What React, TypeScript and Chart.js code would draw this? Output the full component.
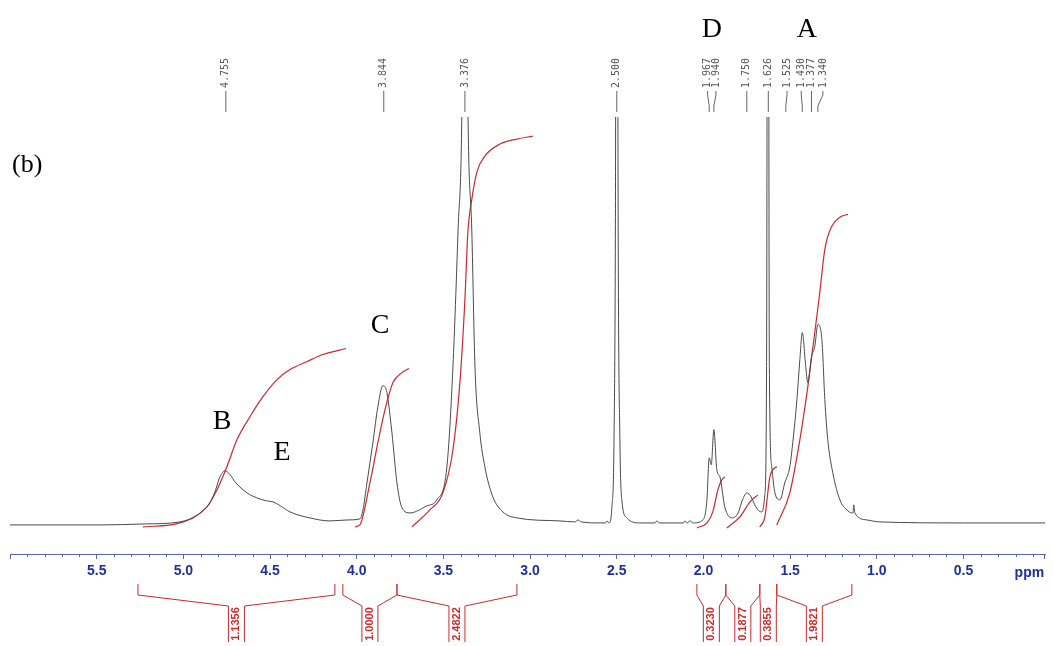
import React, { useEffect, useRef } from "react";
import { Chart, registerables } from "chart.js";

Chart.register(...registerables);

// ---- spectrum (ppm, intensity) ----
const spectrumPpm = [
  6.0, 5.48, 5.22, 5.02, 4.92, 4.847, 4.818, 4.789, 4.76, 4.73, 4.702, 4.633, 4.576, 4.52, 4.483, 4.44, 4.385, 4.27, 4.155, 4.05,
  3.982, 3.964, 3.941, 3.907, 3.878, 3.849, 3.826, 3.797, 3.768, 3.739, 3.693, 3.595, 3.538, 3.48, 3.445, 3.416, 3.393, 3.376,
  3.359, 3.336, 3.318, 3.29, 3.261, 3.215, 3.157, 3.076, 2.828, 2.74, 2.724, 2.705, 2.597, 2.565, 2.557, 2.545, 2.528, 2.516,
  2.508, 2.5, 2.492, 2.482, 2.471, 2.442, 2.367, 2.28, 2.269, 2.255, 2.115, 2.107, 2.095, 2.078, 2.06, 2.003, 1.98, 1.967,
  1.955, 1.94, 1.923, 1.905, 1.877, 1.836, 1.8, 1.775, 1.75, 1.725, 1.704, 1.68, 1.663, 1.646, 1.636, 1.628, 1.62, 1.606,
  1.588, 1.559, 1.531, 1.502, 1.485, 1.461, 1.444, 1.43, 1.41, 1.398, 1.377, 1.358, 1.34, 1.317, 1.3, 1.283, 1.254, 1.213,
  1.173, 1.145, 1.138, 1.133, 1.127, 1.058, 0.983, 0.5, 0.03,
];
const spectrumIntensity = [
  0, 0, 1, 3, 10, 22, 33, 48, 54, 50, 43, 32, 27, 24, 23, 19, 13, 7, 4, 5,
  6, 15, 42, 82, 118, 139, 132, 92, 42, 17, 12, 19, 25, 58, 158, 292, 420, 800,
  420, 292, 158, 92, 58, 28, 13, 7, 4, 3, 5, 3, 2, 2, 4, 2, 18, 85,
  300, 1000, 300, 85, 25, 7, 2, 2, 4, 2, 2, 4, 2, 4, 2, 5, 25, 67,
  60, 95, 55, 48, 18, 7, 12, 25, 32, 28, 20, 14, 13, 30, 158, 1000, 158, 58,
  32, 25, 42, 58, 82, 125, 165, 192, 158, 142, 168, 178, 200, 185, 125, 85, 52, 25,
  15, 12, 12, 20, 12, 5, 3, 2, 2,
];

// ---- integral curves ----
const int1Ppm = [5.233, 5.02, 4.864, 4.806, 4.749, 4.691, 4.616, 4.541, 4.46, 4.385, 4.287, 4.195, 4.062];
const int1Val = [-2, 2, 18, 35, 58, 85, 108, 128, 145, 155, 163, 170, 176];
const int2Ppm = [4.01, 3.982, 3.924, 3.878, 3.837, 3.791, 3.739, 3.699];
const int2Val = [-2, 0, 42, 82, 115, 142, 152, 156];
const int3Ppm = [3.682, 3.578, 3.503, 3.445, 3.405, 3.376, 3.359, 3.336, 3.307, 3.261, 3.174, 3.076, 2.984];
const int3Val = [-2, 15, 32, 75, 142, 225, 292, 325, 352, 368, 380, 385, 388];
const int4Ppm = [2.038, 1.98, 1.946, 1.917, 1.894, 1.877];
const int4Val = [-3, 2, 13, 35, 45, 48];
const int5Ppm = [1.865, 1.79, 1.732, 1.686];
const int5Val = [-3, 8, 23, 30];
const int6Ppm = [1.675, 1.646, 1.617, 1.6, 1.577];
const int6Val = [-2, 8, 48, 55, 58];
const int7Ppm = [1.577, 1.502, 1.444, 1.398, 1.358, 1.329, 1.3, 1.26, 1.213, 1.167];
const int7Val = [0, 32, 85, 138, 192, 232, 275, 298, 307, 310];

// ---- integration brackets ----
const integralLabels = ["1.1356", "1.0000", "2.4822", "0.3230", "0.1877", "0.3855", "1.9821"];
const bracketStart = [5.262, 4.08, 3.768, 2.038, 1.871, 1.675, 1.577];
const bracketEnd = [4.126, 3.768, 3.076, 1.871, 1.675, 1.577, 1.144];

// ---- peak picking labels ----
const peakLabels = ["4.755", "3.844", "3.376", "2.500", "1.967", "1.940", "1.750", "1.626", "1.525", "1.430", "1.377", "1.340"];
const peakPpm = [4.755, 3.844, 3.376, 2.5, 1.967, 1.94, 1.75, 1.626, 1.525, 1.43, 1.377, 1.34];
const peakLabelPpm = [4.755, 3.844, 3.376, 2.5, 1.976, 1.928, 1.75, 1.626, 1.518, 1.436, 1.377, 1.311];

// ---- axis ticks ----
const majorTicks = [0.5, 1.0, 1.5, 2.0, 2.5, 3.0, 3.5, 4.0, 4.5, 5.0, 5.5];
const axisMin = 0.03;
const axisMax = 6.0;

// ---- annotations ----
const letterTexts = ["D", "A", "C", "B", "E"];
const letterPpm = [1.951, 1.403, 3.866, 4.777, 4.431];
const letterBaseline = [37, 37, 333, 429, 460];

const AXIS_COLOR = "#5a66a8";
const TICK_TEXT = "#1f2fa0";
const RED = "#cc2a2a";
const TRACE = "#4a4a4a";

const toPoints = (xs: number[], ys: number[]) => xs.map((x, i) => ({ x, y: ys[i] }));

const decorPlugin = {
  id: "nmrDecor",
  afterDraw(chart: any) {
    const ctx: CanvasRenderingContext2D = chart.ctx;
    const xs = chart.scales.x;
    const area = chart.chartArea;
    ctx.save();

    // minor ticks every 0.1 ppm
    ctx.strokeStyle = AXIS_COLOR;
    ctx.lineWidth = 1;
    for (let k = 1; k <= 60; k++) {
      const v = k / 10;
      if (k % 5 === 0 && v <= 5.5) continue;
      const px = Math.round(xs.getPixelForValue(v)) + 0.5;
      ctx.beginPath();
      ctx.moveTo(px, area.bottom);
      ctx.lineTo(px, area.bottom + (k === 60 ? 5 : 3));
      ctx.stroke();
    }
    const endPx = Math.round(xs.getPixelForValue(axisMin)) - 0.5;
    ctx.beginPath();
    ctx.moveTo(endPx, area.bottom);
    ctx.lineTo(endPx, area.bottom + 5);
    ctx.stroke();

    // ppm unit label
    ctx.fillStyle = TICK_TEXT;
    ctx.font = 'bold 14px "Liberation Sans", Arial, sans-serif';
    ctx.textAlign = "center";
    ctx.textBaseline = "middle";
    ctx.fillText("ppm", xs.getPixelForValue(0.12), 573);

    // peak labels
    ctx.fillStyle = "#555";
    ctx.strokeStyle = "#666";
    ctx.lineWidth = 1;
    ctx.font = '10px "DejaVu Sans Mono", monospace';
    peakLabels.forEach((t, i) => {
      const lx = xs.getPixelForValue(peakLabelPpm[i]);
      const px = xs.getPixelForValue(peakPpm[i]);
      ctx.save();
      ctx.translate(lx, 88);
      ctx.rotate(-Math.PI / 2);
      ctx.textAlign = "left";
      ctx.textBaseline = "middle";
      ctx.fillText(t, 0, 0);
      ctx.restore();
      ctx.beginPath();
      ctx.moveTo(lx, 91);
      ctx.lineTo(lx, 95);
      ctx.lineTo(px, 106);
      ctx.lineTo(px, 112);
      ctx.stroke();
    });

    // integration brackets
    ctx.strokeStyle = RED;
    ctx.fillStyle = RED;
    ctx.lineWidth = 1;
    ctx.font = 'bold 11px "Liberation Sans", Arial, sans-serif';
    integralLabels.forEach((t, i) => {
      const x1 = xs.getPixelForValue(bracketStart[i]);
      const x2 = xs.getPixelForValue(bracketEnd[i]);
      const cx = (x1 + x2) / 2;
      const h = 8;
      ctx.beginPath();
      ctx.moveTo(x1, 584);
      ctx.lineTo(x1, 595);
      ctx.lineTo(cx - h, 606);
      ctx.lineTo(cx - h, 642);
      ctx.moveTo(cx + h, 642);
      ctx.lineTo(cx + h, 606);
      ctx.lineTo(x2, 595);
      ctx.lineTo(x2, 584);
      ctx.stroke();
      ctx.save();
      ctx.translate(cx, 624);
      ctx.rotate(-Math.PI / 2);
      ctx.textAlign = "center";
      ctx.textBaseline = "middle";
      ctx.fillText(t, 0, 0);
      ctx.restore();
    });

    // letters
    ctx.fillStyle = "#000";
    ctx.font = '28px "Liberation Serif", "Times New Roman", serif';
    ctx.textAlign = "center";
    ctx.textBaseline = "alphabetic";
    letterTexts.forEach((t, i) => {
      ctx.fillText(t, xs.getPixelForValue(letterPpm[i]), letterBaseline[i]);
    });
    ctx.font = '26px "Liberation Serif", "Times New Roman", serif';
    ctx.textAlign = "left";
    ctx.fillText("(b)", 12, 172);

    ctx.restore();
  },
};

export default function App() {
  const ref = useRef<HTMLCanvasElement | null>(null);
  useEffect(() => {
    if (!ref.current) return;
    const intStyle = {
      borderColor: RED,
      borderWidth: 1.2,
      pointRadius: 0,
      cubicInterpolationMode: "monotone",
      fill: false,
    };
    const chart = new Chart(ref.current, {
      type: "line",
      data: {
        datasets: [
          {
            data: toPoints(spectrumPpm, spectrumIntensity),
            borderColor: TRACE,
            borderWidth: 1,
            pointRadius: 0,
            cubicInterpolationMode: "monotone",
            fill: false,
          },
          { data: toPoints(int1Ppm, int1Val), ...intStyle },
          { data: toPoints(int2Ppm, int2Val), ...intStyle },
          { data: toPoints(int3Ppm, int3Val), ...intStyle },
          { data: toPoints(int4Ppm, int4Val), ...intStyle },
          { data: toPoints(int5Ppm, int5Val), ...intStyle },
          { data: toPoints(int6Ppm, int6Val), ...intStyle },
          { data: toPoints(int7Ppm, int7Val), ...intStyle },
        ] as any,
      },
      options: {
        animation: false,
        responsive: false,
        devicePixelRatio: 1,
        layout: { padding: { left: 10, right: 8, top: 117, bottom: 0 } },
        plugins: { legend: { display: false }, tooltip: { enabled: false } },
        scales: {
          x: {
            type: "linear",
            reverse: true,
            min: axisMin,
            max: axisMax,
            border: { display: true, color: AXIS_COLOR, width: 1 },
            grid: { display: true, drawOnChartArea: false, drawTicks: true, tickLength: 5, color: AXIS_COLOR },
            ticks: {
              color: TICK_TEXT,
              font: { family: '"Liberation Sans", Arial, sans-serif', size: 14, weight: "bold" },
              padding: 4,
              maxRotation: 0,
              autoSkip: false,
              callback: (v: any) => Number(v).toFixed(1),
            },
            afterBuildTicks: (scale: any) => {
              scale.ticks = majorTicks.map((v) => ({ value: v }));
            },
            afterFit: (scale: any) => {
              scale.height = 92;
            },
          },
          y: { type: "linear", display: false, min: -29, max: 407 },
        },
      } as any,
      plugins: [decorPlugin],
    });
    return () => chart.destroy();
  }, []);
  return (
    <div style={{ position: "absolute", left: 0, top: 0, width: 1053, height: 646, background: "#fff" }}>
      <canvas ref={ref} width={1053} height={646} style={{ display: "block" }} />
    </div>
  );
}
